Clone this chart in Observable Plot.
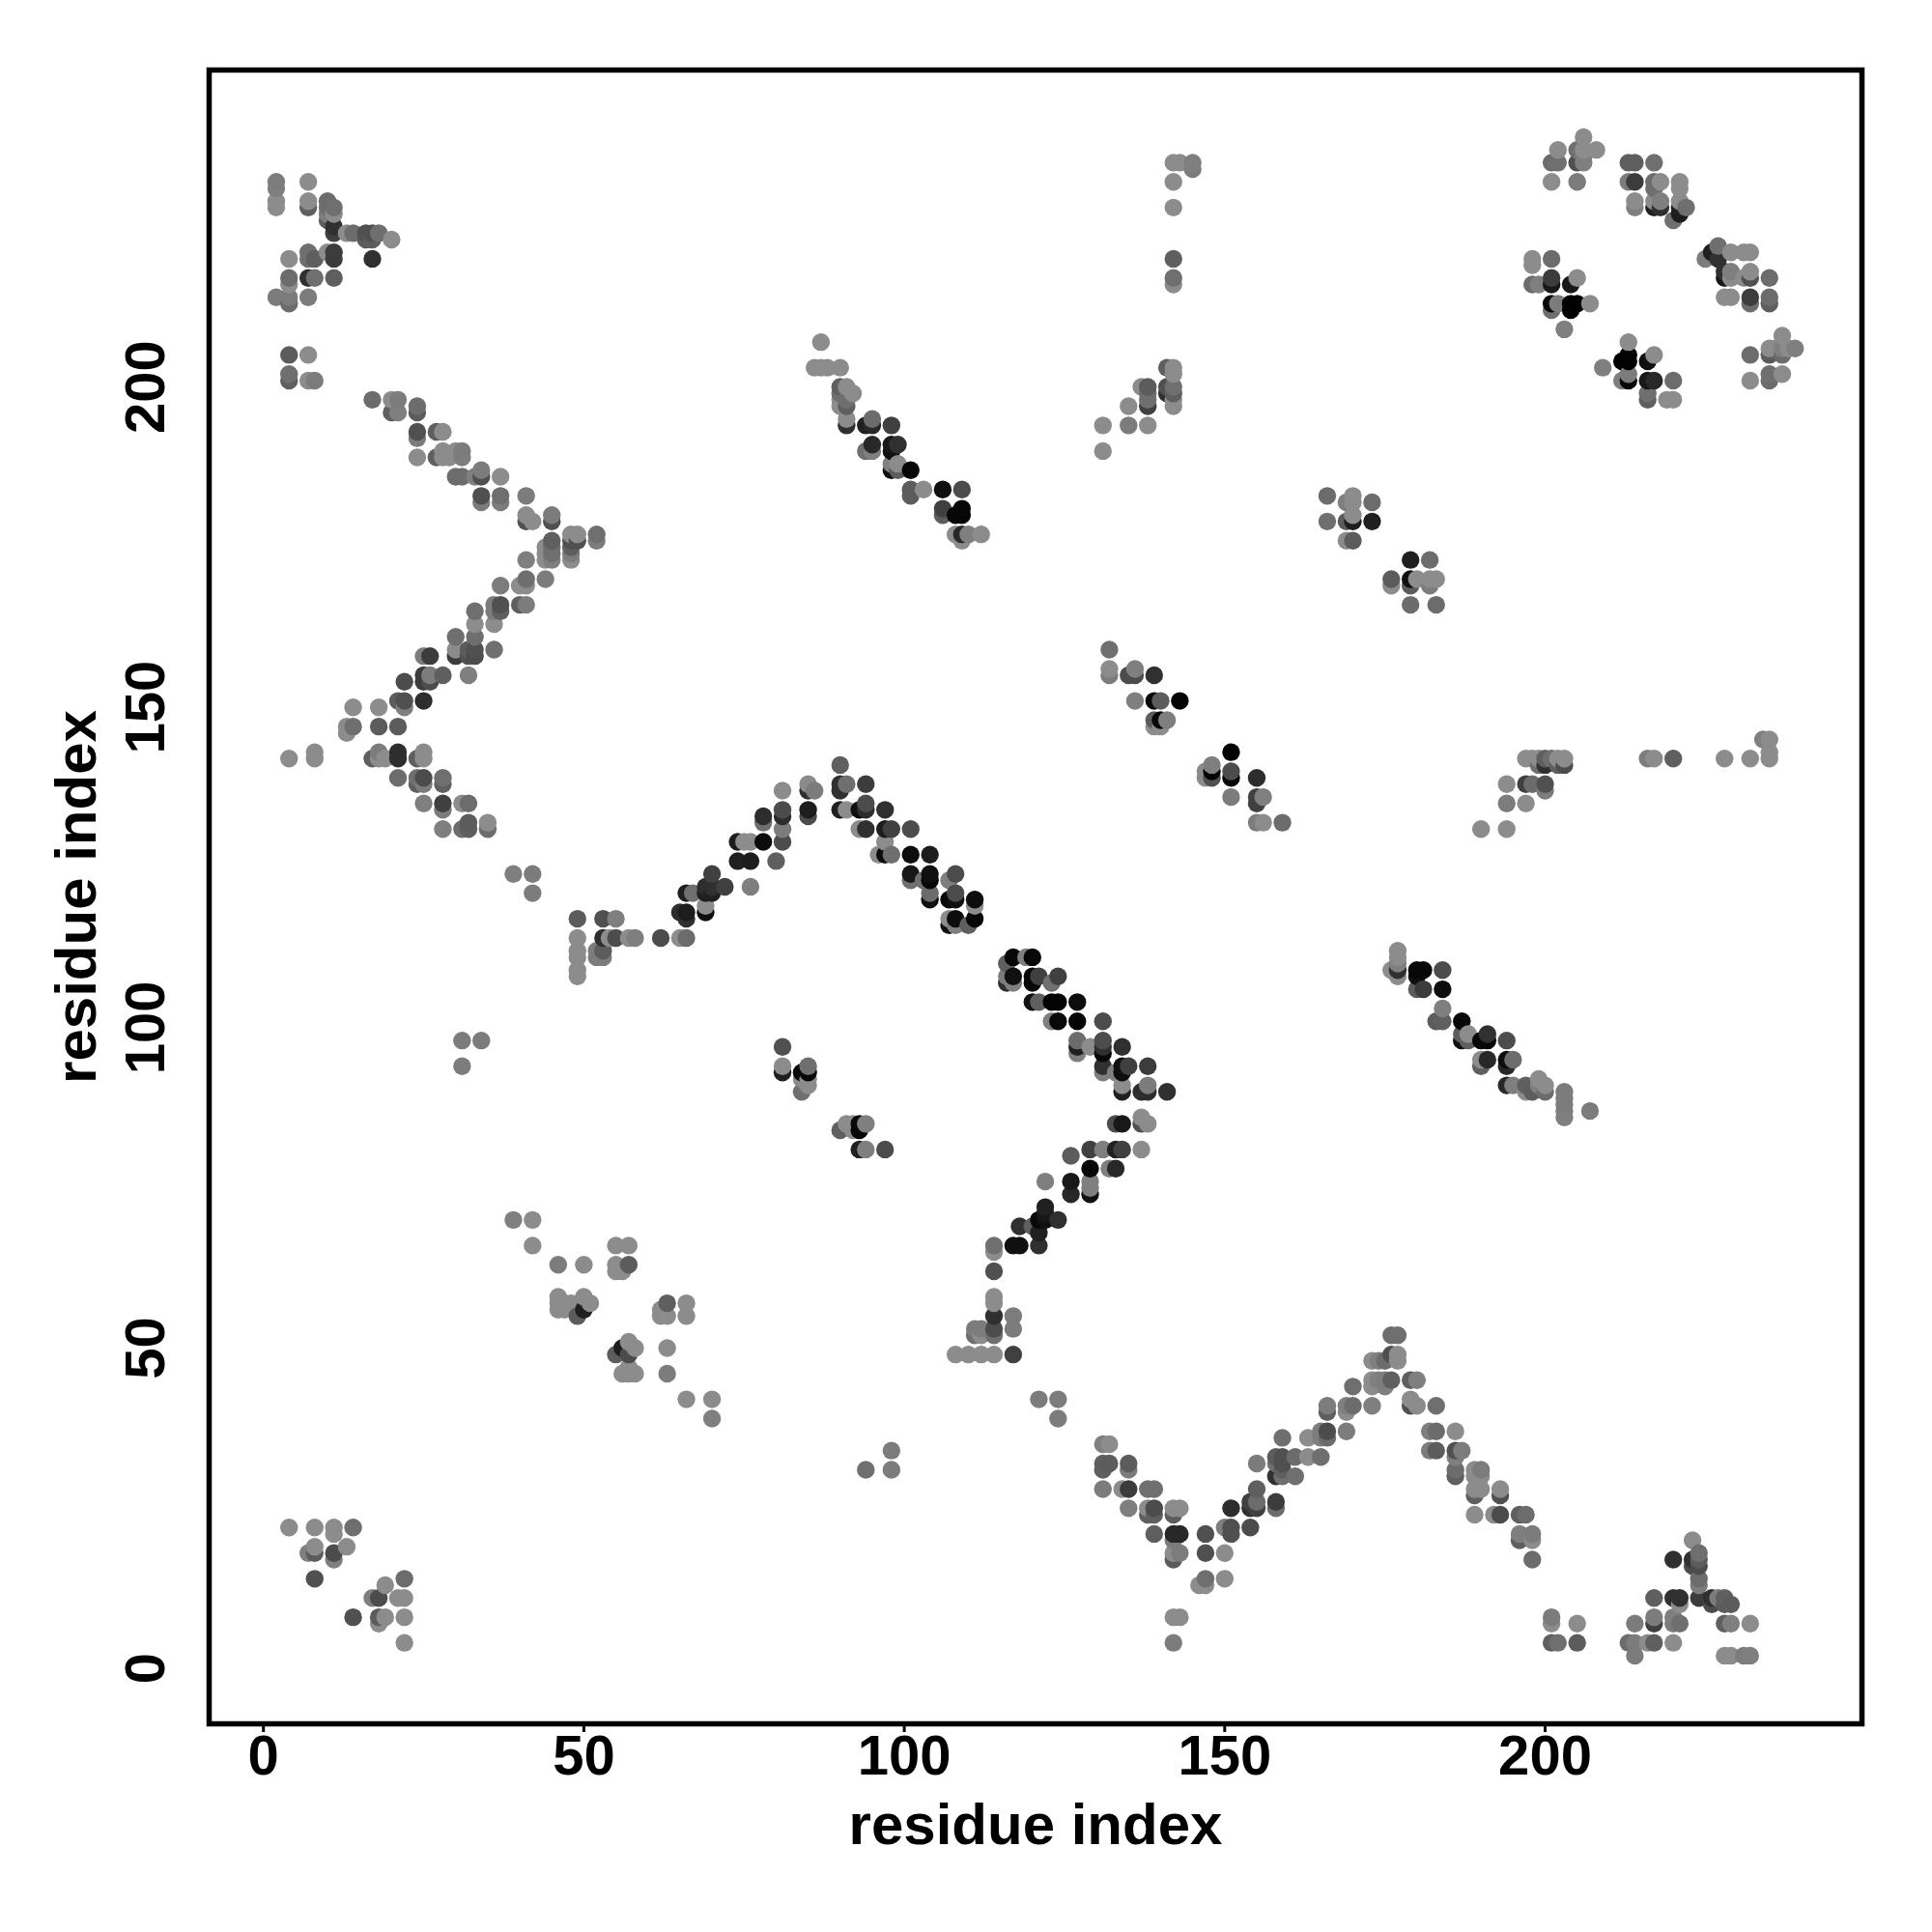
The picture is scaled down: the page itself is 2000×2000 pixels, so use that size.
<!DOCTYPE html>
<html><head><meta charset="utf-8">
<style>html,body{margin:0;padding:0;background:#fff}svg{display:block}</style>
<script src="https://cdn.jsdelivr.net/npm/d3@7"></script>
<script src="https://cdn.jsdelivr.net/npm/@observablehq/plot@0.6"></script>
</head><body><div id="c"></div>
<script>
// Each contact: [residue i, residue j, shade]
const tickValues=[0,50,100,150,200];
const axisLabel="residue index";
const cornerTL=[[2,232,78],[2,231,80],[2,229,88],[2,228,88],[7,232,88],[7,229,88],[7,228,60],[10,229,68],[11,228,70],[10,228,70],[10,227,80],[11,227,88],[10,226,60],[11,225,30],[11,224,40],[13,224,88],[14,224,68],[16,224,50],[17,224,50],[18,224,70],[16,223,58],[17,223,58],[20,223,88],[17,220,30],[7,221,70],[10,221,88],[11,221,38],[4,220,88],[7,220,70],[8,220,60],[11,220,38],[4,217,68],[7,217,30],[8,217,70],[11,217,60],[4,216,88],[2,214,78],[4,214,78],[7,214,78],[4,213,68],[4,205,58],[7,205,88],[4,202,70],[4,201,60],[7,201,88],[8,201,78]];
const armUpperLeft=[[17,198,68],[20,198,88],[21,198,78],[24,197,68],[20,196,60],[21,196,80],[24,196,58],[24,193,50],[27,193,60],[28,193,88],[24,192,78],[28,190,88],[30,190,88],[31,190,78],[24,189,88],[27,189,60],[28,189,88],[29,189,88],[31,189,80],[30,186,68],[31,186,68],[33,186,80],[34,186,50],[37,186,88],[34,187,78],[34,183,50],[37,183,70],[41,183,78],[34,182,78],[37,182,78],[41,180,88],[45,180,78],[41,179,50],[42,179,88],[45,179,50],[48,177,88],[49,177,88],[52,177,70],[45,176,60],[48,176,50],[49,176,50],[52,176,78],[44,175,88],[45,175,70],[48,175,60],[44,174,88],[45,174,70],[48,174,78],[41,173,80],[44,173,88],[45,173,80],[48,173,88]];
const armMidLeft=[[37,169,78],[40,169,88],[41,170,70],[44,170,78],[41,169,88],[36,166,78],[37,166,50],[40,166,60],[41,166,78],[33,165,70],[36,165,78],[37,165,60],[33,163,88],[36,163,88],[30,161,70],[33,161,70],[30,159,88],[32,159,58],[33,159,50],[36,159,70],[25,158,78],[26,158,38],[30,158,38],[32,158,50],[33,158,48],[25,155,38],[26,155,78],[28,155,60],[32,155,80],[22,154,48],[25,154,38],[26,154,48],[21,151,58],[22,151,50],[25,151,28],[14,150,88],[18,150,88],[22,150,80],[13,147,88],[14,147,70],[18,147,58],[21,147,58],[13,146,88],[8,143,88],[18,143,78],[21,143,28],[25,143,88],[4,142,88],[8,142,88],[17,142,60],[18,142,88],[19,142,88],[21,142,28],[24,142,60],[25,142,88],[21,139,68],[24,139,70],[25,139,48],[28,139,70],[24,138,60],[25,138,78],[28,138,60],[25,135,80],[28,135,40],[31,135,88],[32,135,68],[28,134,78],[32,132,58],[35,132,88],[28,131,80],[31,131,68],[32,131,60],[35,131,68],[39,124,80],[42,124,78],[42,121,78]];
const stemLeft=[[49,117,58],[53,117,50],[55,117,80],[49,114,88],[53,114,28],[54,114,88],[55,114,48],[57,114,88],[58,114,80],[62,114,48],[49,112,88],[52,112,78],[53,112,58],[49,111,88],[52,111,78],[53,111,78],[49,109,88],[49,108,88],[31,98,78],[34,98,78],[31,94,78]];
const peakLeft=[[65,114,88],[66,114,68],[65,118,28],[66,118,18],[69,118,10],[66,117,30],[66,121,20],[67,121,70],[69,121,20],[70,121,20],[69,119,88],[69,122,28],[70,122,30],[72,122,40],[76,122,80],[70,124,40],[74,126,20],[76,126,18],[80,126,60],[74,129,18],[75,129,88],[76,129,88],[78,129,8],[81,129,48],[81,131,78],[78,133,28],[81,133,28],[85,133,48],[78,132,70],[81,134,48],[85,134,18],[81,137,88],[85,137,30],[86,137,78],[85,138,88]];
const peakRight=[[90,141,60],[90,138,30],[91,138,70],[94,138,38],[90,137,30],[90,134,20],[91,134,88],[93,134,10],[94,135,48],[94,134,28],[97,134,30],[93,131,88],[94,131,30],[97,131,18],[98,131,40],[101,131,48],[97,129,88],[96,127,88],[97,127,8],[98,127,70],[101,127,8],[104,127,18],[101,124,15],[104,124,10],[108,124,48],[104,123,5],[107,123,80],[101,123,70],[103,123,70],[104,121,68],[108,121,48],[104,120,10],[107,120,5],[108,120,10],[111,120,8],[111,119,88],[107,117,88],[108,117,8],[111,117,5],[107,116,10],[108,116,80],[110,116,60]];
const slopeCentre=[[117,111,5],[119,111,80],[120,111,5],[116,110,60],[116,108,78],[117,108,10],[120,108,5],[121,108,40],[124,108,40],[116,107,30],[117,107,80],[120,107,5],[123,107,70],[120,104,10],[121,104,60],[123,104,2],[124,104,2],[127,104,8],[123,101,80],[124,101,5],[127,101,3],[131,101,48],[127,98,68],[129,97,88],[131,98,48],[134,97,30],[127,97,20],[131,97,30],[127,96,80],[131,96,5],[131,94,30],[134,94,10],[135,94,40],[138,94,38],[133,93,80],[134,93,8],[131,93,80],[134,91,88],[138,91,78],[134,90,20],[137,90,28],[138,90,28],[141,90,30]];
const slopeReturn=[[137,86,88],[138,85,88],[133,85,48],[134,85,15],[137,85,50],[129,81,40],[131,81,80],[133,81,20],[134,81,40],[137,81,88],[126,80,58],[129,78,5],[132,78,80],[133,78,25],[122,76,80],[126,76,15],[129,76,80],[129,75,80],[126,74,25],[129,74,10],[122,72,20],[122,71,15],[121,68,20],[118,69,30],[120,69,60],[122,70,10],[121,70,5],[124,70,30],[121,66,30],[117,66,10],[118,66,10],[114,66,70],[114,65,88],[114,62,50],[114,58,88],[114,57,88],[114,55,30],[117,55,78],[117,53,78],[114,53,48],[111,53,78],[112,53,78],[111,52,70],[112,52,88],[114,52,70],[108,49,88],[110,49,88],[112,49,88],[114,49,88],[117,49,40],[121,42,78],[124,42,78],[124,39,78],[94,31,70],[98,31,78],[98,34,78]];
const islandsCentre=[[81,97,50],[81,94,88],[81,93,20],[84,93,5],[85,94,70],[85,93,5],[85,92,88],[84,92,88],[85,91,88],[84,90,70],[90,84,60],[91,85,88],[92,85,88],[93,85,5],[93,84,5],[94,85,80],[92,84,88],[93,81,20],[94,81,80],[97,81,48]];
const clusterLowerLeft=[[39,70,80],[42,70,88],[42,66,88],[46,63,78],[50,63,88],[55,66,88],[57,66,88],[55,63,88],[57,63,58],[55,62,88],[56,62,88],[46,58,88],[46,57,88],[46,56,88],[47,57,88],[47,56,88],[48,57,88],[50,58,88],[51,57,88],[50,56,20],[49,55,58],[63,57,60],[66,57,88],[62,56,88],[63,55,88],[62,55,88],[66,55,88],[57,51,88],[56,50,18],[58,50,88],[63,50,88],[55,49,58],[57,49,48],[56,46,88],[57,47,88],[58,46,88],[57,46,88],[63,46,78],[66,42,88],[70,42,88],[70,39,80]];
const cornerBL=[[4,22,88],[8,22,88],[11,22,88],[14,22,70],[11,21,88],[8,19,88],[13,19,88],[7,18,80],[8,18,58],[11,18,48],[11,17,80],[8,14,50],[22,14,68],[19,13,88],[17,11,80],[18,11,48],[21,11,88],[22,11,88],[14,8,50],[18,8,58],[19,8,88],[22,8,88],[18,7,88],[22,4,88]];
const armTopCentre=[[87,207,88],[86,203,88],[87,203,88],[88,203,88],[90,203,88],[90,200,60],[91,200,88],[90,199,70],[92,199,88],[90,198,88],[91,198,70],[90,197,88],[91,197,60],[91,195,88],[95,195,68],[91,194,30],[94,194,20],[95,194,25],[98,194,40],[95,191,25],[98,191,15],[99,191,30],[94,190,70],[95,190,80],[98,190,10],[98,188,80],[99,188,88],[98,187,8],[99,187,58],[101,187,5],[101,184,58],[103,184,88],[106,184,10],[109,184,48],[101,183,58],[106,181,40],[109,181,5],[106,180,58],[108,180,5],[109,180,3],[108,177,88],[109,177,25],[110,177,80],[112,177,88],[109,176,88]];
const stackTop=[[142,235,88],[143,235,88],[145,235,80],[145,234,78],[142,232,88],[142,228,88],[142,220,60],[142,217,70],[142,216,88],[141,203,60],[142,203,88],[142,202,88],[137,200,88],[138,200,58],[141,200,50],[142,200,70],[141,199,30],[142,199,60],[138,199,70],[138,198,70],[142,198,88],[138,197,40],[135,197,88],[142,197,88],[131,194,88],[135,194,78],[138,194,88],[131,190,88]];
const patchesMid=[[166,183,68],[170,183,88],[169,182,80],[170,182,88],[173,182,68],[170,180,88],[166,179,70],[169,179,58],[170,179,18],[173,179,20],[169,176,88],[170,176,58],[179,173,20],[182,173,68],[176,170,58],[179,170,10],[180,170,88],[182,170,88],[183,170,88],[176,169,88],[179,169,58],[182,169,78],[179,166,68],[183,166,68]];
const runCentre=[[132,159,70],[132,156,88],[132,155,78],[135,155,48],[136,156,80],[136,155,48],[139,155,30],[136,151,80],[139,151,5],[140,151,58],[143,151,3],[139,148,58],[140,148,5],[141,148,80],[139,147,88],[140,147,88],[151,143,2],[148,141,80],[147,140,88],[148,140,2],[151,140,48],[147,139,88],[148,139,50],[151,139,5],[155,139,28],[151,136,78],[155,136,40],[156,136,80],[155,135,40],[155,132,78],[156,132,88],[159,132,68]];
const rowRight=[[234,145,80],[235,145,88],[235,143,88],[235,142,88],[232,142,88],[228,142,88],[220,142,60],[217,142,88],[216,142,78],[197,142,88],[198,142,88],[199,142,88],[200,142,60],[201,142,70],[202,142,88],[203,142,88],[199,141,70],[200,141,30],[203,141,48],[202,141,60],[194,138,88],[197,138,40],[198,138,68],[200,138,50],[200,137,78],[194,135,78],[197,135,88],[190,131,88],[194,131,88]];
const diagRight=[[177,112,88],[177,111,88],[177,110,80],[176,109,88],[177,109,30],[180,109,5],[181,109,5],[184,109,48],[177,108,88],[180,108,10],[180,106,58],[181,106,38],[184,106,8],[184,103,80],[183,101,58],[184,101,60],[187,101,5],[187,99,58],[188,99,88],[191,99,30],[187,98,10],[188,98,60],[190,98,5],[191,98,5],[194,98,48],[190,95,88],[191,95,25],[194,95,8],[195,95,68],[190,94,60],[194,94,25],[199,92,88],[194,91,25],[195,91,80],[197,91,60],[200,91,88],[199,91,80],[197,90,88],[198,90,58],[200,90,68],[203,90,78],[203,89,78],[203,88,78],[203,87,80],[207,87,78],[203,86,80]];
const cornerTR=[[206,239,88],[202,237,88],[208,237,88],[205,237,70],[206,237,88],[201,235,68],[202,235,70],[205,235,50],[206,235,80],[206,236,80],[201,232,88],[205,232,78],[213,235,60],[214,235,60],[217,235,70],[213,232,78],[214,232,38],[217,232,68],[218,232,88],[221,232,88],[217,231,70],[221,231,88],[214,229,88],[217,229,88],[218,229,80],[221,229,88],[214,228,80],[217,228,20],[218,228,30],[222,228,70],[221,228,20],[221,227,18],[220,226,70],[227,222,70],[226,221,20],[229,221,88],[231,221,88],[232,221,88],[225,220,78],[227,220,30],[228,218,30],[229,218,80],[232,218,88],[228,217,15],[229,217,88],[231,217,88],[232,217,50],[235,217,68],[228,214,88],[229,214,88],[232,214,38],[235,214,68],[232,213,68],[235,213,60]];
const innerTR=[[198,220,88],[201,220,68],[198,219,88],[201,217,38],[205,217,88],[204,216,15],[198,216,68],[199,216,80],[201,216,15],[201,213,5],[202,213,78],[204,213,2],[205,213,0],[207,213,88],[201,212,70],[204,212,2],[203,209,80],[213,207,88],[217,205,88],[213,205,2],[212,204,0],[213,204,0],[216,204,10],[209,203,80],[213,202,78],[212,201,80],[213,201,5],[216,201,15],[217,201,25],[220,201,68],[216,199,70],[216,198,60],[219,198,88],[220,198,88],[237,208,88],[235,206,88],[236,206,88],[237,206,80],[238,206,88],[239,206,80],[232,205,68],[235,205,58],[237,205,68],[232,201,88],[235,202,70],[237,202,88],[235,201,68]];
const valleyBottom=[[131,35,80],[132,35,88],[131,32,60],[132,32,58],[135,32,58],[131,31,60],[135,31,78],[131,28,78],[134,28,88],[135,28,38],[138,28,70],[139,28,70],[135,25,80],[138,25,88],[139,25,48],[142,25,88],[143,25,88],[138,24,60],[139,24,60],[142,24,58],[139,21,60],[142,21,25],[143,21,25],[147,21,50],[150,22,80],[151,22,50],[151,21,50],[142,20,78],[142,18,88],[143,18,78],[147,18,50],[150,18,88],[142,17,58],[147,14,70],[150,14,88],[146,13,88],[147,13,88],[142,8,88],[143,8,88],[142,4,78],[151,25,28],[154,22,48],[155,28,60],[154,26,40],[155,26,68],[158,26,38],[154,25,30],[155,25,40],[158,25,68],[155,32,78]];
const ridgeBottom=[[158,33,58],[159,33,50],[161,33,68],[163,33,88],[165,33,70],[158,32,70],[159,32,50],[158,30,30],[159,30,70],[161,30,70],[159,31,60],[159,36,70],[163,36,88],[165,37,78],[166,37,48],[169,37,78],[165,36,80],[166,36,68],[166,41,78],[169,41,80],[170,41,68],[173,41,80],[166,40,60],[169,40,88],[170,44,70],[173,45,88],[174,45,80],[175,45,78],[176,45,60],[179,45,60],[180,45,80],[173,44,88],[175,44,80],[173,48,88],[174,48,80],[175,48,68],[176,49,50],[177,49,88],[177,48,88],[176,52,68],[177,52,70],[179,42,88],[179,41,50],[180,41,88],[183,41,70],[182,37,80],[183,37,68],[186,37,88],[182,34,78],[183,34,58],[186,34,50],[187,34,78],[186,33,80],[186,31,68],[189,31,88],[190,31,78],[186,30,60],[189,30,88],[190,30,88],[189,28,88],[190,28,88],[193,28,88],[189,27,60],[193,27,50],[189,24,88],[192,24,88],[193,24,48],[196,24,60],[197,24,68],[196,21,80],[198,21,78],[196,20,60],[198,20,88],[198,17,68]];
const cornerBR=[[201,8,78],[201,7,88],[205,7,88],[201,4,60],[202,4,70],[205,4,58],[223,20,88],[220,17,30],[223,17,30],[224,18,70],[224,17,58],[224,16,48],[223,16,48],[224,14,68],[224,13,78],[217,11,60],[220,11,30],[221,11,30],[224,11,38],[226,11,30],[227,11,78],[228,11,60],[221,10,88],[226,10,48],[228,10,58],[229,10,58],[214,7,78],[217,7,40],[220,8,80],[221,7,70],[220,7,78],[228,7,60],[229,7,80],[232,7,88],[217,8,78],[213,4,68],[214,4,78],[216,4,88],[217,4,60],[220,4,88],[214,2,78],[228,2,88],[229,2,88],[231,2,78],[232,2,80]];

const contacts=d3.sort([cornerTL,armUpperLeft,armMidLeft,stemLeft,peakLeft,peakRight,slopeCentre,slopeReturn,islandsCentre,clusterLowerLeft,cornerBL,armTopCentre,stackTop,patchesMid,runCentre,rowRight,diagRight,cornerTR,innerTR,valleyBottom,ridgeBottom,cornerBR].flat(),d=>d[0],d=>d[1]);

const chart=Plot.plot({
  width:2000,height:2000,
  marginLeft:216,marginRight:73,marginTop:72,marginBottom:216,
  x:{domain:[-8.47,249.44]},
  y:{domain:[-8.64,249.46]},
  color:{type:"linear",domain:[0,88],range:["#000000","#8c8c8c"]},
  style:{fontFamily:"'Liberation Sans',Arial,sans-serif",background:"#fff"},
  marks:[
    Plot.dot(contacts,{x:d=>d[0],y:d=>d[1],fill:d=>d[2],r:9.2}),
    Plot.frame({stroke:"#000",strokeWidth:5.5}),
    Plot.axisX(tickValues,{label:null,tickSize:9,tickPadding:2,strokeWidth:3,stroke:"#000",fill:"#000",fontSize:58,fontWeight:"bold",lineAnchor:"top"}),
    Plot.axisX({label:axisLabel,labelAnchor:"center",labelArrow:"none",labelOffset:124,ticks:[],tickSize:0,fill:"#000",fontSize:60,fontWeight:"bold"}),
    Plot.axisY(tickValues,{label:null,tickSize:9,tickPadding:38,strokeWidth:3,stroke:"#000",fill:"#000",fontSize:58,fontWeight:"bold",rotate:-90,textAnchor:"middle",lineAnchor:"bottom"}),
    Plot.axisY({label:axisLabel,labelAnchor:"center",labelArrow:"none",labelOffset:160,ticks:[],tickSize:0,fill:"#000",fontSize:60,fontWeight:"bold"})
  ]
});
document.getElementById("c").appendChild(chart);
</script></body></html>
